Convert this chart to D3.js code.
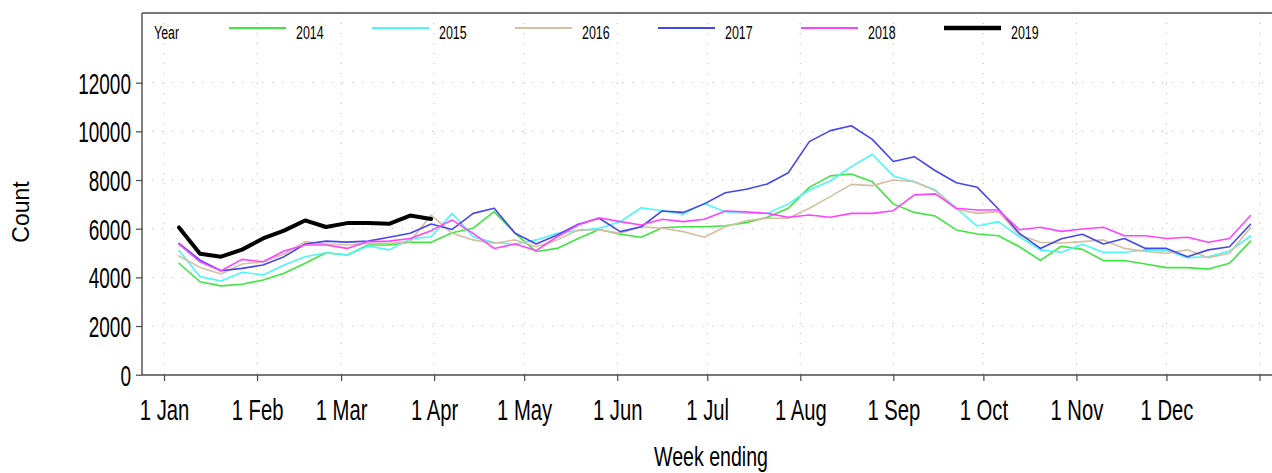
<!DOCTYPE html>
<html>
<head>
<meta charset="utf-8">
<script src="https://cdn.jsdelivr.net/npm/d3@7"></script>
<style>
  html, body { margin: 0; padding: 0; background: #fff; }
  svg { display: block; font-family: "Liberation Sans", Arial, sans-serif; }
</style>
</head>
<body>
<svg id="chart" width="1272" height="473"></svg>
<script>
// ---------------- data ----------------
const years = ["2014", "2015", "2016", "2017", "2018", "2019"];
const colors = ["#3fe63f", "#4cf7f7", "#d6bea2", "#4646ee", "#ff44ff", "#000000"];

const v2014 = [4580, 3820, 3650, 3720, 3890, 4170, 4580, 5010, 4920, 5330, 5330, 5440, 5440, 5830, 6020, 6700, 5810, 5060, 5190, 5600, 5970, 5770, 5650, 6040, 6080, 6080, 6120, 6250, 6470, 6840, 7700, 8170, 8250, 7930, 7020, 6670, 6520, 5950, 5780, 5710, 5260, 4700, 5280, 5150, 4690, 4690, 4550, 4400, 4400, 4340, 4580, 5490];
const v2015 = [5100, 4030, 3850, 4210, 4100, 4510, 4850, 5010, 4920, 5290, 5130, 5580, 5670, 6630, 5670, 5430, 5360, 5540, 5810, 5920, 6020, 6290, 6860, 6740, 6600, 7040, 6700, 6640, 6630, 7020, 7590, 7960, 8550, 9060, 8170, 7930, 7590, 6840, 6110, 6290, 5670, 5130, 5030, 5360, 5030, 5030, 5130, 5100, 4810, 4850, 5080, 5700];
const v2016 = [4880, 4410, 4140, 4550, 4640, 4960, 5470, 5370, 5330, 5400, 5400, 5470, 6560, 5810, 5540, 5400, 5540, 5260, 5540, 5950, 5950, 5810, 6080, 6020, 5880, 5650, 6080, 6330, 6430, 6430, 6840, 7320, 7820, 7770, 8000, 7930, 7560, 6800, 6630, 6700, 5740, 5440, 5410, 5470, 5540, 5190, 5060, 4990, 5130, 4810, 4990, 6040];
const v2017 = [5400, 4710, 4270, 4370, 4510, 4850, 5370, 5490, 5450, 5490, 5650, 5810, 6190, 5970, 6630, 6840, 5810, 5370, 5740, 6180, 6430, 5880, 6080, 6730, 6670, 7020, 7480, 7620, 7840, 8300, 9580, 10030, 10230, 9670, 8760, 8960, 8380, 7890, 7700, 6810, 5810, 5190, 5590, 5770, 5370, 5600, 5190, 5190, 4850, 5130, 5260, 6180];
const v2018 = [5370, 4640, 4270, 4740, 4640, 5080, 5330, 5330, 5190, 5470, 5490, 5600, 5920, 6360, 5810, 5190, 5370, 5100, 5670, 6150, 6450, 6290, 6150, 6390, 6290, 6390, 6730, 6690, 6630, 6470, 6560, 6470, 6630, 6630, 6740, 7390, 7430, 6840, 6770, 6770, 5960, 6060, 5890, 5990, 6060, 5710, 5710, 5600, 5650, 5440, 5600, 6540];
const v2019 = [6050, 4970, 4850, 5140, 5600, 5920, 6340, 6070, 6230, 6230, 6200, 6540, 6400];
const seriesValues = [v2014, v2015, v2016, v2017, v2018, v2019];

// week-ending dates (category axis), shown on a common calendar year
const weekEnding = d3.utcSunday.range(new Date(Date.UTC(2019, 0, 6)), new Date(Date.UTC(2019, 11, 30)));

const monthTicks = d3.utcMonth.range(new Date(Date.UTC(2019, 0, 1)), new Date(Date.UTC(2020, 0, 2)));
const monthLabels = ["1 Jan", "1 Feb", "1 Mar", "1 Apr", "1 May", "1 Jun", "1 Jul", "1 Aug", "1 Sep", "1 Oct", "1 Nov", "1 Dec", ""];
const yTicks = [0, 2000, 4000, 6000, 8000, 10000, 12000];

// ---------------- layout ----------------
const svg = d3.select("#chart");
const L = 142, R = 1272, T = 13, B = 375;
const xRef = d3.scaleUtc()
  .domain([new Date(Date.UTC(2019, 0, 1)), new Date(Date.UTC(2020, 0, 1))])
  .range([164, 1259.5]);
const x = d3.scaleUtc().domain([xRef.invert(L), xRef.invert(R)]).range([L, R]);
const y = d3.scaleLinear().domain([0, 12000]).range([374.7, 82.7]);

const SX = 0.655; // horizontal compression of the original lettering

// grid
const grid = svg.append("g").attr("stroke", "#bdbdbd").attr("stroke-width", 1).attr("stroke-dasharray", "1.2,8.8");
grid.selectAll("line.h").data(yTicks.slice(1)).join("line")
  .attr("x1", L).attr("x2", R).attr("y1", d => y(d)).attr("y2", d => y(d));
grid.selectAll("line.v").data(monthTicks).join("line")
  .attr("x1", d => x(d)).attr("x2", d => x(d)).attr("y1", T).attr("y2", B);

// axes
const axisColor = "#4a4a4a";
const gy = svg.append("g").attr("transform", `translate(${L},0)`)
  .call(d3.axisLeft(y).tickValues(yTicks).tickFormat(d3.format("d")).tickSizeInner(6).tickSizeOuter(0));
gy.select(".domain").remove();
gy.selectAll(".tick line").attr("stroke", axisColor).attr("stroke-width", 1.2);
gy.selectAll(".tick text")
  .attr("x", 0).attr("y", 10.4).attr("dy", null)
  .attr("transform", `translate(-11,0) scale(${SX},1)`)
  .attr("font-size", 29).attr("fill", "#000").attr("font-family", null);

const gx = svg.append("g").attr("transform", `translate(0,${B})`)
  .call(d3.axisBottom(x).tickValues(monthTicks).tickFormat((d, i) => monthLabels[i]).tickSizeInner(6).tickSizeOuter(0));
gx.select(".domain").remove();
gx.selectAll(".tick line").attr("stroke", axisColor).attr("stroke-width", 1.2);
gx.selectAll(".tick text")
  .attr("x", 0).attr("y", 45).attr("dy", null)
  .attr("transform", `scale(${SX + 0.02},1)`)
  .attr("font-size", 30).attr("fill", "#000").attr("font-family", null);

// frame
const frame = svg.append("g").attr("stroke", axisColor).attr("stroke-width", 1.4).attr("fill", "none");
frame.append("line").attr("x1", L).attr("x2", L).attr("y1", T).attr("y2", B);
frame.append("line").attr("x1", L).attr("x2", R).attr("y1", B).attr("y2", B);
frame.append("line").attr("x1", L).attr("x2", R).attr("y1", T).attr("y2", T);

// series
const line = d3.line().x((d, i) => x(weekEnding[i])).y(d => y(d));
svg.append("g").selectAll("path").data(seriesValues).join("path")
  .attr("d", d => line(d))
  .attr("fill", "none")
  .attr("stroke", (d, i) => colors[i])
  .attr("stroke-width", (d, i) => i === 5 ? 4 : 1.6)
  .attr("stroke-linejoin", "round")
  .attr("stroke-linecap", "round");

// legend
const lg = svg.append("g");
lg.append("text").text("Year")
  .attr("transform", `translate(154,38.5) scale(${SX},1)`)
  .attr("font-size", 19).attr("fill", "#000");
const legX = d3.scaleLinear().domain([0, 1]).range([229, 372]);
const items = lg.selectAll("g.item").data(years).join("g")
  .attr("transform", (d, i) => `translate(${legX(i)},0)`);
items.append("line").attr("x1", 0).attr("x2", 57).attr("y1", 28).attr("y2", 28)
  .attr("stroke", (d, i) => colors[i])
  .attr("stroke-width", (d, i) => i === 5 ? 4.5 : 2);
items.append("text").text(d => d)
  .attr("transform", `translate(67,38.5) scale(${SX},1)`)
  .attr("font-size", 19).attr("fill", "#000");

// axis titles
svg.append("text").text("Count")
  .attr("transform", "translate(29,212) rotate(-90)")
  .attr("text-anchor", "middle").attr("font-size", 23).attr("fill", "#000")
  .attr("font-family", "'Liberation Sans', Arial, sans-serif");
svg.append("text").text("Week ending")
  .attr("transform", `translate(711,466) scale(0.7,1)`)
  .attr("text-anchor", "middle").attr("font-size", 28).attr("fill", "#000");
</script>
</body>
</html>
